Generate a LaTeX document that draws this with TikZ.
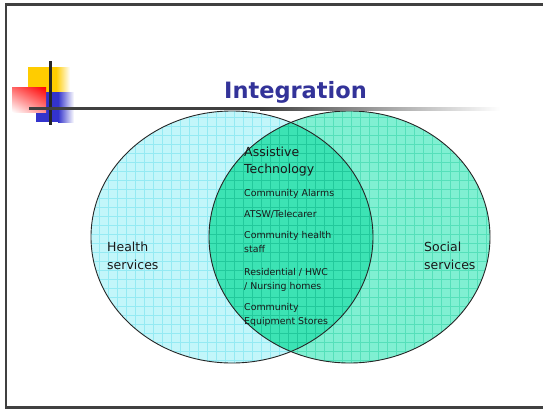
\documentclass[tikz,border=0pt]{standalone}
\usepackage{fontspec}
\setmainfont{DejaVu Sans}
\usetikzlibrary{shadings}

\definecolor{titleblue}{HTML}{333399}
\definecolor{healthfill}{HTML}{C2F6FA}
\definecolor{healthgrid}{HTML}{94EAF3}
\definecolor{socialfill}{HTML}{80F0D2}
\definecolor{socialgrid}{HTML}{55E0BA}
\definecolor{bothfill}{HTML}{3CE3B4}
\definecolor{bothgrid}{HTML}{22C99C}
\definecolor{logoyellow}{HTML}{FFCC00}
\definecolor{logoblue}{HTML}{3333CC}
\definecolor{logored}{HTML}{FF0000}

\begin{document}
\begin{tikzpicture}[x=1pt,y=-1pt,
    bigtext/.style={font=\fontsize{12.5}{18}\selectfont, text=black!90, align=left, inner sep=0pt, anchor=base west},
    smalltext/.style={font=\fontsize{9.4}{13.5}\selectfont, text=black!90, align=left, inner sep=0pt, anchor=base west},
    rim/.style={draw=black!85, line width=0.9pt},
    gridline/.style={line width=0.6pt, step=9pt}]

    \useasboundingbox (0,0) rectangle (543,410);

    % slide frame
    \draw[black!75, line width=2.2pt] (560,4.5) -- (6,4.5) -- (6,407.5) -- (560,407.5);

    % health services
    \begin{scope}
        \clip (232,237) ellipse [x radius=141pt, y radius=126pt];
        \fill[healthfill] (80,370) rectangle (380,100);
        \draw[healthgrid, gridline] (80,370) grid (380,100);
    \end{scope}

    % social services
    \begin{scope}
        \clip (349.5,237) ellipse [x radius=140.5pt, y radius=126pt];
        \fill[socialfill] (200,370) rectangle (500,100);
        \draw[socialgrid, gridline] (200,370) grid (500,100);
    \end{scope}

    % overlap
    \begin{scope}
        \clip (232,237) ellipse [x radius=141pt, y radius=126pt];
        \clip (349.5,237) ellipse [x radius=140.5pt, y radius=126pt];
        \fill[bothfill] (200,370) rectangle (380,100);
        \draw[bothgrid, gridline] (200,370) grid (380,100);
    \end{scope}

    \draw[rim] (232,237) ellipse [x radius=141pt, y radius=126pt];
    \draw[rim] (349.5,237) ellipse [x radius=140.5pt, y radius=126pt];

    % logo
    \fill[logoyellow] (28,67) rectangle (56,92);
    \shade[left color=logoyellow, right color=white] (56,67) rectangle (70,92);
    \fill[logoblue] (36,92) rectangle (58,122);
    \shade[left color=logoblue, right color=white] (58,92) rectangle (74,122);
    \shade[upper right=logored, upper left=logored!60, lower right=logored!45, lower left=white] (12,87) rectangle (46,112);
    \fill[black!85] (49,61) rectangle (52,125);
    \fill[black!75] (29,107) rectangle (260,110);
    \shade[left color=black!75, right color=white] (260,107) rectangle (500,110);

    \node[font=\fontsize{22.5}{27}\bfseries\selectfont, text=titleblue, inner sep=0pt, anchor=base] (title) at (295.5,98) {Integration};

    % last line of each node sits on the given point
    \node[bigtext] (health) at (107,269) {Health\\services};
    \node[bigtext] (social) at (424,269) {Social\\services};
    \node[bigtext, font=\fontsize{12.5}{17}\selectfont] (assistive) at (244,173) {Assistive\\Technology};

    \node[smalltext] (alarms) at (244,196) {Community Alarms};
    \node[smalltext] (atsw) at (244,217) {ATSW/Telecarer};
    \node[smalltext] (staff) at (244,252) {Community health\\staff};
    \node[smalltext] (residential) at (244,289) {Residential / HWC\\/ Nursing homes};
    \node[smalltext] (equipment) at (244,324) {Community\\Equipment Stores};
\end{tikzpicture}
\end{document}
